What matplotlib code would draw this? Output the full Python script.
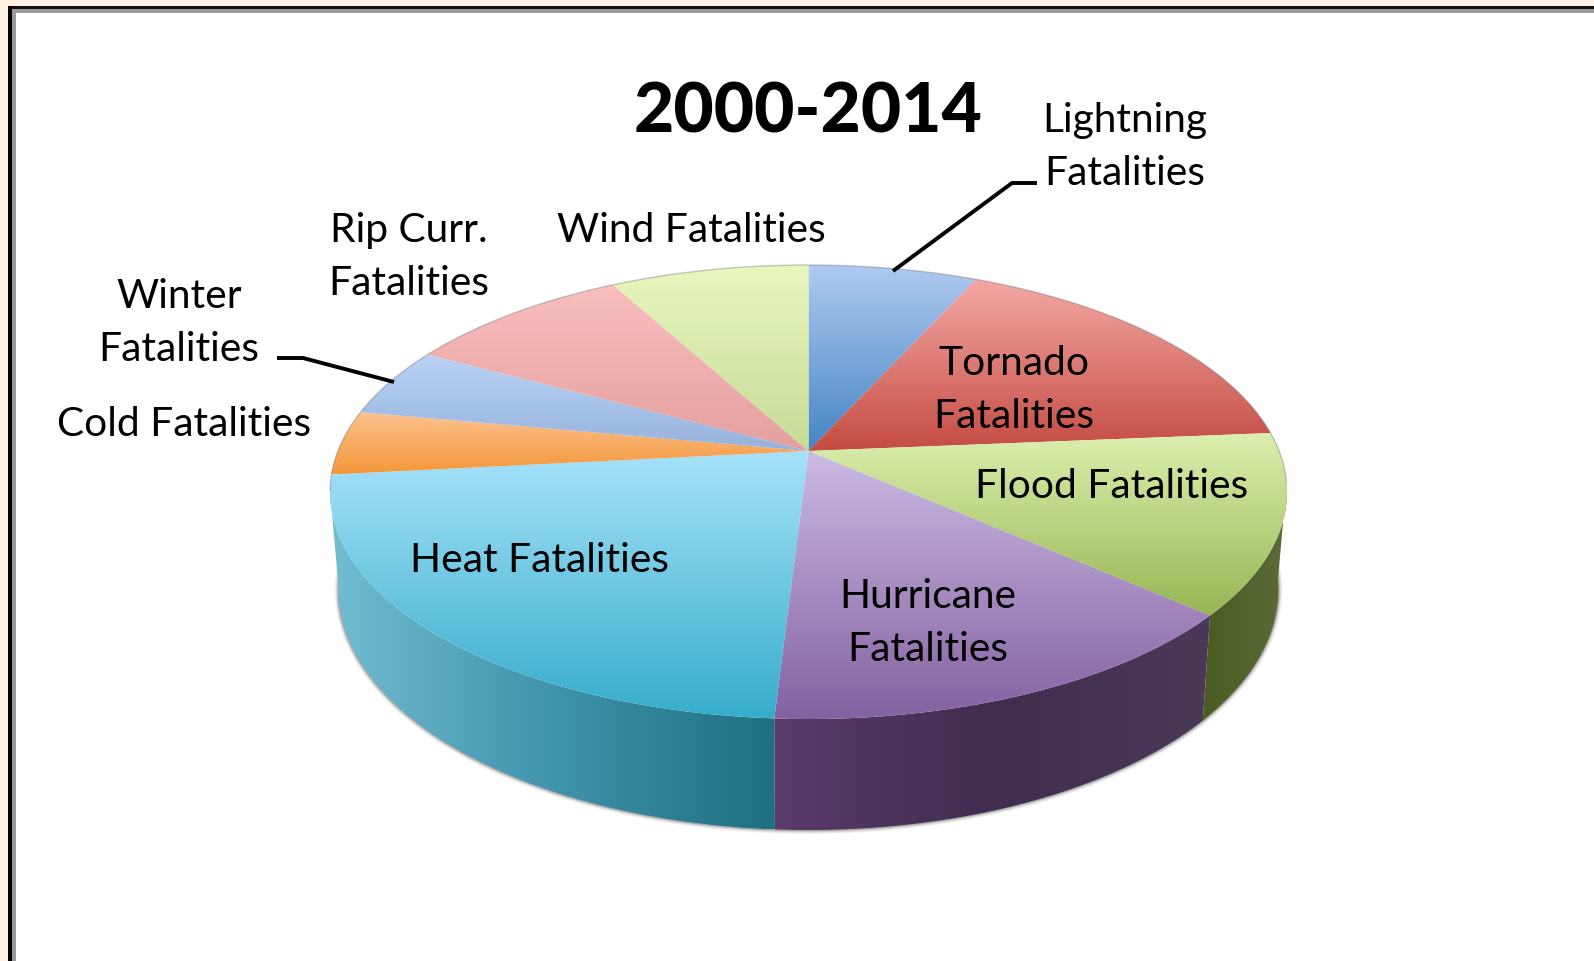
import numpy as np
import matplotlib
matplotlib.use("Agg")
import matplotlib.pyplot as plt
from matplotlib.colors import LinearSegmentedColormap
from matplotlib.patches import Polygon, Rectangle

# ---- data (share of fatalities, %, clockwise from 12 o'clock)
categories = ["Lightning Fatalities", "Tornado Fatalities", "Flood Fatalities",
              "Hurricane Fatalities", "Heat Fatalities", "Cold Fatalities",
              "Winter Fatalities", "Rip Curr. Fatalities", "Wind Fatalities"]
values = [6.8, 16.9, 12.8, 14.5, 22.4, 4.6, 5.0, 9.1, 8.0]
title = "2000-2014"
top_colors = [("#b0caf2", "#4585c2"), ("#f4a8a6", "#c44c43"), ("#dcf0ae", "#98b654"),
              ("#cbbbe2", "#8461a2"), ("#a6e2fa", "#36adcb"), ("#fcc290", "#f4973a"),
              ("#bad2f6", "#96b3dc"), ("#fabebe", "#e3a09f"), ("#e8f7be", "#c7db96")]
wall_colors = {2: ["#4a5c22", "#5c6b3a"], 3: ["#5a3b69", "#402d4f", "#4a3a58"],
               4: ["#72bdd2", "#3f93ab", "#1f6f81"]}

W, H = 1594, 961
FONT = "Lato"
fig = plt.figure(figsize=(W / 100, H / 100), dpi=100, facecolor="white")
ax = fig.add_axes([0, 0, 1, 1])
ax.set_axis_off()

# perspective of the disc
cx, cy, a, b, k = 808.5, 451, 470.6, 219.6, 0.1806
ell_y, ell_ry = 492, 227
bot_y, bot_ry, bot_sx = 590, 240, 0.982
wall_from, wall_to = 98, 260


def rim(t):
    t = np.radians(t)
    d = 1 + k * np.cos(t)
    return cx + a * np.sin(t) / d, cy - b * np.cos(t) / d


def rim_bottom(t):
    x, y = rim(t)
    return cx + (x - cx) * bot_sx, bot_y + (y - ell_y) * bot_ry / ell_ry


def paint(pts, cols, vertical=True):
    pts = np.asarray(pts)
    x0, y0 = pts.min(0)
    x1, y1 = pts.max(0)
    cmap = LinearSegmentedColormap.from_list("g", cols)
    g = np.linspace(0, 1, 256)
    arr = g[:, None] if vertical else g[None, :]
    im = ax.imshow(arr, cmap=cmap, extent=(x0, x1, y1, y0), origin="upper",
                   aspect="auto", interpolation="bilinear", zorder=3)
    im.set_clip_path(Polygon(pts, closed=True, transform=ax.transData))


edges = np.concatenate([[0], np.cumsum(values)]) / np.sum(values) * 360

# soft shadow under the wall
ts = np.linspace(wall_from - 6, wall_to + 6, 300)
bx, by = rim_bottom(ts)
for lw, al in [(6, 0.05), (4.5, 0.08), (3, 0.14), (1.6, 0.22)]:
    ax.plot(bx, by, color="#333333", lw=lw, alpha=al, zorder=2, solid_capstyle="round")

# walls
for i, cols in wall_colors.items():
    t0, t1 = max(edges[i], wall_from), min(edges[i + 1], wall_to)
    ts = np.linspace(t0, t1, 120)
    xt, yt = rim(ts)
    xb, yb = rim_bottom(ts)
    pts = np.column_stack([np.r_[xt, xb[::-1]], np.r_[yt, yb[::-1]]])
    paint(pts, cols, vertical=False)

# top surface
for i, cols in enumerate(top_colors):
    ts = np.linspace(edges[i], edges[i + 1], 120)
    xt, yt = rim(ts)
    pts = np.column_stack([np.r_[cx, xt], np.r_[cy, yt]])
    paint(pts, cols)

# thin grey rim on the far side of the disc only
ts = np.linspace(wall_to, wall_from + 360, 400)
xt, yt = rim(ts)
ax.plot(xt, yt, color="#777777", lw=1.0, alpha=0.4, zorder=4)

# frame
ax.add_patch(Rectangle((0, 0), W, 6, fc="#fff0df", ec="none", zorder=5))
ax.add_patch(Rectangle((0, 0), 8, H, fc="#fff0df", ec="none", zorder=5))
ax.add_patch(Rectangle((8, 6), W, 2.5, fc="#111111", ec="none", zorder=6))
ax.add_patch(Rectangle((8, 6), 4, H, fc="#000000", ec="none", zorder=6))
ax.add_patch(Rectangle((12, 8.5), W, 4, fc="#999999", ec="none", zorder=5))
ax.add_patch(Rectangle((12, 8.5), 4.5, H, fc="#999999", ec="none", zorder=5))

# leader lines
ax.plot([893, 1012, 1037], [271, 183, 183], color="black", lw=2.8, zorder=7,
        solid_joinstyle="miter", solid_capstyle="butt")
ax.plot([277, 303, 394], [358, 358, 382], color="black", lw=2.8, zorder=7,
        solid_joinstyle="miter", solid_capstyle="butt")

# texts
labels = [("Lightning\nFatalities", 1125, 147), ("Wind Fatalities", 691, 231),
          ("Rip Curr.\nFatalities", 409, 257), ("Winter\nFatalities", 179, 323),
          ("Cold Fatalities", 184, 424), ("Tornado\nFatalities", 1013.5, 390),
          ("Flood Fatalities", 1112, 487), ("Heat Fatalities", 540, 561),
          ("Hurricane\nFatalities", 928, 623)]
for txt, x, y in labels:
    ax.text(x, y, txt, ha="center", va="center", ma="center", family=FONT, fontsize=29.3,
            color="black", linespacing=1.53, zorder=8)
ax.text(808, 113, title, ha="center", va="center", family=FONT, fontweight="black",
        fontsize=50, color="black", zorder=8)

ax.set_xlim(0, W)
ax.set_ylim(H, 0)
fig.savefig("out.png", dpi=100)
